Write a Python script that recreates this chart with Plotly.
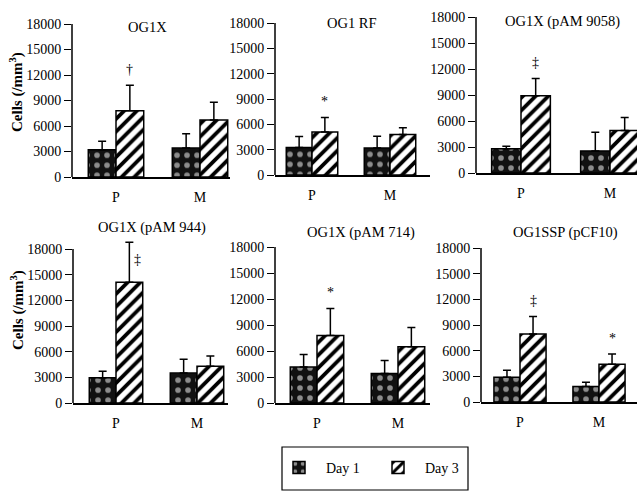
import plotly.graph_objects as go

W, H = 637, 493

# ---------------- data ----------------
panels = ["OG1X", "OG1 RF", "OG1X (pAM 9058)", "OG1X (pAM 944)", "OG1X (pAM 714)", "OG1SSP (pCF10)"]
groups = ["P", "M"]
day1_mean = [[3200, 3400], [3250, 3200], [2800, 2550], [2950, 3500], [4150, 3400], [2900, 1800]]
day1_sd = [[1000, 1700], [1300, 1400], [300, 2150], [750, 1600], [1450, 1500], [800, 500]]
day3_mean = [[7800, 6700], [5100, 4800], [8900, 4900], [14100, 4300], [7800, 6500], [7950, 4400]]
day3_sd = [[3000, 2100], [1700, 800], [2000, 1500], [4700, 1200], [3100, 2200], [2050, 1200]]
y_ticks = [0, 3000, 6000, 9000, 12000, 15000, 18000]
y_ticktext = ["0", "3000", "6000", "9000", "12000", "15000", "18000"]
y_max = 18000
# significance marks over Day 3 bars: (panel index, group, symbol)
sig_marks = [(0, "P", "†"), (1, "P", "*"), (2, "P", "‡"), (3, "P", "‡"),
             (4, "P", "*"), (5, "P", "‡"), (5, "M", "*")]
series_names = ["Day 1", "Day 3"]

# ---------------- layout (pixels) ----------------
# (y-axis x, P centre, M centre, right end, y of 0, y of 18000)
frames = [
    (72, 116, 200, 230, 177, 24),
    (275, 312, 390, 430, 175, 23),
    (476, 521, 610, 637, 173, 17),
    (73, 116, 197, 228, 403, 249),
    (275, 317, 398, 430, 403, 247),
    (481, 520, 599, 637, 402, 248),
]
title_pos = [(147, 27), (352, 23), (562, 22), (152, 227), (361, 232), (565, 232)]
ytitle_pos = [(17, 92), (17, 310)]

FONT = "Liberation Serif"
BARGAP = 0.34
Y_HEAD = 1.09   # extra headroom above the 18000 axis end, fraction of 18000

fig = go.Figure()

pat1 = dict(shape=".", fgcolor="#8c8c8c", bgcolor="#111111", size=10, solidity=0.25, fillmode="replace")
pat3 = dict(shape="/", fgcolor="#000000", bgcolor="#ffffff", size=9, solidity=0.42, fillmode="replace")

for i in range(6):
    ax = "" if i == 0 else str(i + 1)
    for k, (means, sds, pat, col) in enumerate([(day1_mean, day1_sd, pat1, "#111111"),
                                                 (day3_mean, day3_sd, pat3, "#ffffff")]):
        fig.add_trace(go.Bar(
            x=groups, y=means[i], name=series_names[k],
            xaxis="x" + ax, yaxis="y" + ax,
            legendgroup=series_names[k], showlegend=(i == 0),
            marker=dict(color=col, pattern=pat, line=dict(color="black", width=1.5)),
            error_y=dict(type="data", symmetric=False, array=sds[i], arrayminus=[0, 0],
                         color="black", thickness=1.5, width=4),
        ))

    axx, pc, mc, right, y0, ytop = frames[i]
    unit = mc - pc
    ytop_ext = y0 - (y0 - ytop) * Y_HEAD
    fig.update_layout(**{
        "xaxis" + ax: dict(
            domain=[axx / W, min(right / W, 1.0)],
            range=[-(pc - axx) / unit, 1 + (right - mc) / unit],
            anchor="y" + ax, showline=True, linecolor="black", linewidth=1.5,
            ticks="", showgrid=False, zeroline=False, automargin=False,
            tickfont=dict(family=FONT, size=14, color="black"),
            ticklabelstandoff=6, fixedrange=True,
        ),
        "yaxis" + ax: dict(
            domain=[1 - y0 / H, 1 - ytop_ext / H],
            range=[0, y_max * Y_HEAD], tickvals=y_ticks, ticktext=y_ticktext,
            anchor="x" + ax, showline=False,
            ticks="outside", ticklen=7, tickwidth=1.3, tickcolor="black",
            showgrid=False, zeroline=False, automargin=False, fixedrange=True,
            tickfont=dict(family=FONT, size=14, color="black"),
        ),
    })
    # vertical axis line ending at the 18000 tick
    fig.add_shape(type="line", xref=("x" + ax) + " domain", yref="y" + ax,
                  x0=0, x1=0, y0=0, y1=y_max, line=dict(color="black", width=1.5))
    tx, ty = title_pos[i]
    fig.add_annotation(text=panels[i], x=tx / W, y=1 - ty / H, xref="paper", yref="paper",
                       showarrow=False, xanchor="center", yanchor="middle",
                       font=dict(family=FONT, size=14.5, color="black"))

# significance symbols
off3 = (1 - BARGAP) / 4
for (pi, g, sym) in sig_marks:
    gi = groups.index(g)
    ax = "" if pi == 0 else str(pi + 1)
    top = day3_mean[pi][gi] + day3_sd[pi][gi]
    if top > y_max:
        fig.add_annotation(text=sym, x=gi + off3, y=top, xref="x" + ax, yref="y" + ax,
                           showarrow=False, xanchor="left", yanchor="top",
                           xshift=3, yshift=-8,
                           font=dict(family=FONT, size=14, color="black"))
    else:
        fig.add_annotation(text=sym, x=gi + off3, y=top, xref="x" + ax, yref="y" + ax,
                           showarrow=False, xanchor="center", yanchor="middle",
                           yshift=16,
                           font=dict(family=FONT, size=14, color="black"))

for (yx, yy) in ytitle_pos:
    fig.add_annotation(text="<b>Cells (/mm<sup>3</sup>)</b>", x=yx / W, y=1 - yy / H,
                       xref="paper", yref="paper", showarrow=False, textangle=-90,
                       xanchor="center", yanchor="middle",
                       font=dict(family=FONT, size=15, color="black"))

# legend frame
fig.add_shape(type="rect", xref="paper", yref="paper",
              x0=282 / W, x1=468 / W, y0=1 - 490 / H, y1=1 - 447 / H,
              line=dict(color="black", width=1.2), fillcolor="rgba(0,0,0,0)")

fig.update_layout(
    width=W, height=H,
    margin=dict(l=0, r=0, t=0, b=0, autoexpand=False),
    paper_bgcolor="white", plot_bgcolor="white",
    barmode="group", bargap=BARGAP, bargroupgap=0,
    showlegend=True,
    legend=dict(orientation="h", x=272 / W, y=1 - 468 / H, xanchor="left", yanchor="middle",
                bgcolor="rgba(0,0,0,0)", borderwidth=0, itemwidth=44,
                entrywidth=40, entrywidthmode="pixels",
                font=dict(family=FONT, size=14, color="black")),
    font=dict(family=FONT, color="black"),
)

fig.write_html("out.html", config={"displayModeBar": False},
               post_script="document.body.style.margin='0px';document.body.style.padding='0px';")
